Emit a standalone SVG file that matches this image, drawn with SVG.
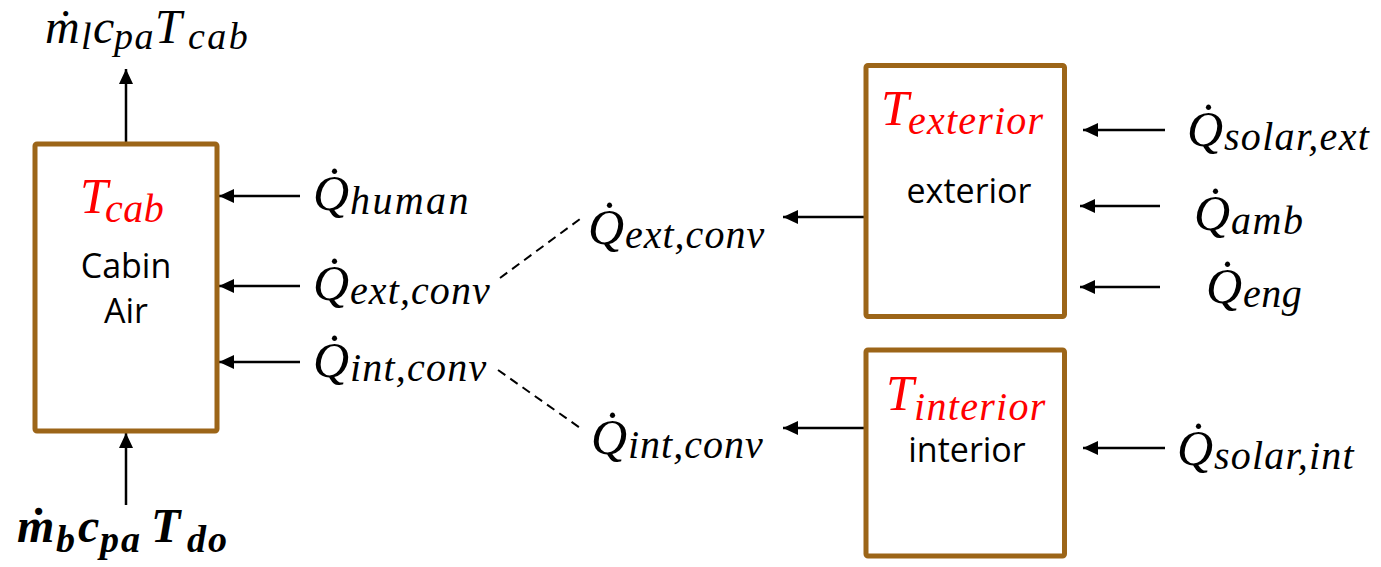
<svg xmlns="http://www.w3.org/2000/svg" width="1381" height="567" viewBox="0 0 1381 567">
<style>
.box{fill:#fff;stroke:#9C6518;stroke-width:5;stroke-linejoin:round}
.m{font-family:"Liberation Serif","Times New Roman",serif;font-style:italic;fill:#000}
.red{fill:#FF0000}
.q{font-size:50px}
.s{font-size:40px;letter-spacing:1.4px}
.t{font-size:48px}
.ts{font-size:38px}
.sans{font-family:"Open Sans","Noto Sans",sans-serif;font-size:34px;fill:#000;text-anchor:middle}
.arr{stroke:#000;stroke-width:2.5;fill:none;marker-end:url(#ah)}
.dash{stroke:#000;stroke-width:2;fill:none;stroke-dasharray:9 6}
</style>
<defs>
<marker id="ah" markerUnits="userSpaceOnUse" markerWidth="16" markerHeight="14" refX="15" refY="7" orient="auto">
<path d="M0,0 L15,7 L0,14 z" fill="#000"/>
</marker>
</defs>

<g id="connectors">
<line class="arr" x1="126" y1="143" x2="126" y2="69"/>
<line class="arr" x1="126" y1="505" x2="126" y2="433"/>
<line class="arr" x1="300" y1="196" x2="219" y2="196"/>
<line class="arr" x1="300" y1="286" x2="219" y2="286"/>
<line class="arr" x1="300" y1="362" x2="219" y2="362"/>
<line class="arr" x1="865" y1="217" x2="783" y2="217"/>
<line class="arr" x1="865" y1="428" x2="783" y2="428"/>
<line class="arr" x1="1165" y1="130" x2="1083" y2="130"/>
<line class="arr" x1="1160" y1="206" x2="1080" y2="206"/>
<line class="arr" x1="1160" y1="287" x2="1080" y2="287"/>
<line class="arr" x1="1165" y1="448" x2="1083" y2="448"/>
<line class="dash" x1="500" y1="278" x2="580" y2="219"/>
<line class="dash" x1="498" y1="370" x2="583" y2="430"/>
</g>

<g id="cabin">
<rect class="box" x="35" y="144" width="182" height="287" rx="2"/>
<text class="m red"><tspan class="q" x="80" y="213">T</tspan><tspan class="s" x="105" y="222" style="letter-spacing:0.5px">cab</tspan></text>
<text class="sans" x="126" y="278">Cabin</text>
<text class="sans" x="126" y="323">Air</text>
</g>

<g id="exterior">
<rect class="box" x="866" y="65.5" width="198.5" height="251" rx="2"/>
<text class="m red"><tspan class="q" x="881" y="125">T</tspan><tspan class="s" x="908" y="134" style="letter-spacing:1.2px">exterior</tspan></text>
<text class="sans" x="969" y="203">exterior</text>
</g>

<g id="interior">
<rect class="box" x="866" y="350" width="198.5" height="206" rx="2"/>
<text class="m red"><tspan class="q" x="886" y="410">T</tspan><tspan class="s" x="914" y="420" style="letter-spacing:1.3px">interior</tspan></text>
<text class="sans" x="967" y="462">interior</text>
</g>

<g id="outflow">
<text class="m"><tspan class="t" x="45" y="43">ṁ</tspan><tspan class="ts" x="81" y="49">l</tspan><tspan class="t" x="93" y="43">c</tspan><tspan class="ts" x="114" y="49" style="letter-spacing:1.5px">pa</tspan><tspan class="t" x="155" y="43">T</tspan><tspan class="ts" x="188" y="49" style="letter-spacing:2.5px">cab</tspan></text>
</g>

<g id="inflow">
<text class="m" font-weight="bold"><tspan class="t" x="17" y="542">ṁ</tspan><tspan class="ts" x="56" y="552">b</tspan><tspan class="t" x="78" y="542">c</tspan><tspan class="ts" x="100" y="552" style="letter-spacing:2px">pa</tspan><tspan class="t" x="151" y="542">T</tspan><tspan class="ts" x="187" y="552" style="letter-spacing:2px">do</tspan></text>
</g>

<g id="q-human">
<text class="m"><tspan class="q" x="313" y="210">Q̇</tspan><tspan class="s" x="350" y="214" style="letter-spacing:2.4px">human</tspan></text>
</g>
<g id="q-ext-conv-cabin">
<text class="m"><tspan class="q" x="313" y="300">Q̇</tspan><tspan class="s" x="350" y="304" style="letter-spacing:1.1px">ext,conv</tspan></text>
</g>
<g id="q-int-conv-cabin">
<text class="m"><tspan class="q" x="313" y="377">Q̇</tspan><tspan class="s" x="350" y="381" style="letter-spacing:1.2px">int,conv</tspan></text>
</g>
<g id="q-ext-conv">
<text class="m"><tspan class="q" x="588" y="244">Q̇</tspan><tspan class="s" x="625" y="248" style="letter-spacing:1px">ext,conv</tspan></text>
</g>
<g id="q-int-conv">
<text class="m"><tspan class="q" x="591" y="454">Q̇</tspan><tspan class="s" x="628" y="458" style="letter-spacing:1px">int,conv</tspan></text>
</g>
<g id="q-solar-ext">
<text class="m"><tspan class="q" x="1187" y="146">Q̇</tspan><tspan class="s" x="1224" y="150" style="letter-spacing:1.3px">solar,ext</tspan></text>
</g>
<g id="q-amb">
<text class="m"><tspan class="q" x="1194" y="230">Q̇</tspan><tspan class="s" x="1231" y="234" style="letter-spacing:1.5px">amb</tspan></text>
</g>
<g id="q-eng">
<text class="m"><tspan class="q" x="1206" y="303">Q̇</tspan><tspan class="s" x="1243" y="307" style="letter-spacing:0.5px">eng</tspan></text>
</g>
<g id="q-solar-int">
<text class="m"><tspan class="q" x="1177" y="465">Q̇</tspan><tspan class="s" x="1214" y="469" style="letter-spacing:1.2px">solar,int</tspan></text>
</g>
</svg>
